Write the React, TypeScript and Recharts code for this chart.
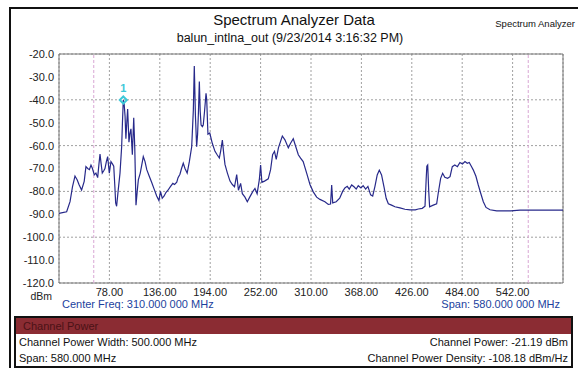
import React from 'react';
import {
  LineChart,
  Line,
  XAxis,
  YAxis,
  CartesianGrid,
  ReferenceLine,
  ReferenceArea,
  ReferenceDot,
} from 'recharts';

// sweep: 20 MHz .. 600 MHz (center 310 MHz, span 580 MHz)
const freqMHz = [
  20, 24, 28.8, 32.7, 35.5, 38.4, 41, 43, 46, 49, 51, 53, 55, 56.8, 58.5, 60.6, 62.5, 64.5, 66, 67.2,
  68.5, 69.8, 71.5, 72.9, 74.5, 76, 77.9, 79.8, 81.5, 83, 84.3, 85.2, 86.3, 88, 90.2, 92.1, 93, 94, 95,
  96, 97, 98, 99, 100.5, 101.5, 102.8, 104.4, 106, 107.2, 108.6, 110, 111.3, 113.5, 115, 117, 119, 121,
  124, 126.6, 129.5, 132.4, 135, 136.8, 138.8, 141, 143, 145.4, 148, 151, 153, 155.5, 157, 159.2, 161,
  163, 165, 167.5, 170, 172.7, 174.6, 175.7, 177, 178.4, 179.5, 180.5, 181.5, 182.5, 183.5, 185, 186,
  187.5, 189.2, 190, 191.4, 193.5, 196.4, 199.5, 202, 204.5, 206, 208, 209.5, 211, 213.8, 216.8, 219.5,
  222, 224.5, 226.5, 229, 231, 234, 236.7, 239.5, 242.8, 245.5, 248, 250.5, 252, 253.5, 256.5, 260.8,
  263.5, 265.8, 268, 270, 272.5, 277, 280, 283.9, 286.5, 289.6, 292.5, 295.4, 298, 301, 305, 308.8,
  312.6, 316.5, 320.3, 326, 329.9, 332.5, 333.8, 335, 339, 343, 346.4, 349, 351.7, 354, 356.8, 359.5,
  362, 364.4, 367.5, 370, 372.9, 375.5, 378.6, 381, 383.6, 386.2, 388.6, 391.2, 394, 396.5, 399, 402.7,
  406.6, 412.4, 418, 424, 430, 433.5, 438, 441.2, 442.5, 443.3, 444.3, 445.5, 446.5, 450.7, 454.6,
  456.5, 459.2, 461.5, 464, 467.2, 470, 472.6, 475.5, 478.5, 481.4, 484.3, 487.2, 489.8, 492.1, 494.8,
  496.7, 499.8, 502.5, 505.3, 508.3, 511.4, 516, 523.7, 540, 550.5, 570, 600,
];

const levelDbm = [
  -89.6, -89.3, -88.9, -84.5, -78, -73.3, -75, -77, -79.4, -75.6, -69.2, -70, -70.5, -68.5, -70, -72.8,
  -72, -74, -68, -63.7, -68, -72, -71, -70, -67, -64.8, -72, -67, -68, -69, -78, -85, -86.5, -80, -72,
  -60.5, -50, -40.1, -42, -47, -57, -50, -44, -58.5, -55, -52.7, -64, -47.8, -61, -86, -80, -75, -72,
  -69, -64.8, -67, -70.5, -73.5, -76, -79, -82, -84, -80, -83, -82, -80.5, -79.5, -78, -76.5, -77, -76,
  -74, -72.5, -70, -67.7, -70, -72, -67, -60.5, -44.5, -25.2, -47, -60.5, -55, -45, -32, -45, -51,
  -51.7, -51, -45, -37.2, -40, -55, -54.5, -59, -62.5, -64, -65.4, -62.5, -57.6, -63.3, -68.2, -72,
  -75.5, -77, -78, -72.7, -79.5, -76.5, -81, -82.5, -84.5, -82.5, -80.2, -78.7, -81, -75, -68.5, -76,
  -75.5, -74.5, -70.5, -64, -62.5, -66, -61, -55.8, -57.5, -61, -59, -57, -60.5, -64, -65.5, -67, -72,
  -77, -80.2, -82.5, -83.5, -84.5, -85.7, -85.5, -77.2, -85, -84.5, -83, -80, -78.5, -77.8, -79, -77.2,
  -78, -79, -77.5, -78.5, -77.5, -79, -77.8, -81.5, -82, -77.8, -72.8, -70.7, -72.8, -78, -83, -85.4,
  -86, -86.7, -87.2, -87.8, -88.1, -88.1, -87.7, -87.4, -86.5, -75, -69, -68.5, -80, -86.7, -86, -85.4,
  -80.6, -74.3, -72.1, -73.8, -74.3, -73.6, -69.2, -68.5, -69.2, -67.4, -68, -67, -67.7, -67.4, -69.2,
  -70.6, -73.4, -77.2, -80.8, -84.5, -87, -88, -88.5, -88.5, -88.2, -88.2, -88.2,
];

const freqTicks = [78, 136, 194, 252, 310, 368, 426, 484, 542];
const levelTicks = [-120, -110, -100, -90, -80, -70, -60, -50, -40, -30, -20];

// channel power integration edges (500 MHz width)
const channelEdges = [60, 560];

// marker 1
const markerFreq = 94;
const markerLevel = -40.1;

const traceData = freqMHz.map((f, i) => ({ f, dbm: levelDbm[i] }));

const FONT = "'Liberation Sans', Arial, sans-serif";

const MarkerShape = (props: any) => {
  const { cx, cy } = props;
  return (
    <g>
      <path
        d={`M${cx},${cy - 3.5} L${cx + 3.5},${cy} L${cx},${cy + 3.5} L${cx - 3.5},${cy} Z`}
        fill="none"
        stroke="#3cc8d8"
        strokeWidth={2}
      />
      <text x={cx} y={cy - 8} textAnchor="middle" fontSize={11} fontWeight="bold" fill="#3cc8d8" fontFamily={FONT}>
        1
      </text>
    </g>
  );
};

export default function App() {
  return (
    <div
      style={{
        position: 'fixed',
        left: 0,
        top: 0,
        width: 578,
        height: 368,
        background: '#fff',
        overflow: 'hidden',
        fontFamily: FONT,
      }}
    >
      {/* outer frame */}
      <div
        style={{
          position: 'absolute',
          left: 9,
          top: 7,
          width: 600,
          height: 370,
          border: '2px solid #111',
          boxSizing: 'border-box',
        }}
      />

      <div style={{ position: 'absolute', left: 0, top: 0 }}>
        <LineChart
          width={578}
          height={368}
          data={traceData}
          margin={{ top: 54, right: 15, bottom: 55, left: 0 }}
        >
          <CartesianGrid stroke="#a0a0a0" strokeDasharray="2 2" />
          <XAxis
            dataKey="f"
            type="number"
            domain={[20, 600]}
            ticks={freqTicks}
            allowDataOverflow
            height={30}
            axisLine={false}
            tickLine={false}
            tickSize={3}
            tickMargin={2}
            tick={{ fontSize: 11, fill: '#222', fontFamily: FONT }}
            tickFormatter={(v: number) => v.toFixed(2)}
          />
          <YAxis
            type="number"
            domain={[-120, -20]}
            ticks={levelTicks}
            allowDataOverflow
            width={59}
            axisLine={false}
            tickLine={false}
            tickSize={3}
            tickMargin={2}
            tick={{ fontSize: 11, fill: '#222', fontFamily: FONT }}
            tickFormatter={(v: number) => v.toFixed(1)}
          />
          {channelEdges.map((x) => (
            <ReferenceLine key={x} x={x} stroke="#d9a6d4" strokeDasharray="3 2" />
          ))}
          <ReferenceArea x1={20} x2={600} y1={-120} y2={-20} fill="none" stroke="#777" strokeWidth={1} />
          <Line
            type="linear"
            dataKey="dbm"
            stroke="#27298a"
            strokeWidth={1.2}
            dot={false}
            isAnimationActive={false}
          />
          <ReferenceDot x={markerFreq} y={markerLevel} shape={MarkerShape} />
        </LineChart>
      </div>

      <svg
        width={578}
        height={368}
        style={{ position: 'absolute', left: 0, top: 0, pointerEvents: 'none' }}
        fontFamily={FONT}
      >
        <text x={294} y={25} textAnchor="middle" fontSize={15} fill="#111">
          Spectrum Analyzer Data
        </text>
        <text x={290} y={42} textAnchor="middle" fontSize={12.5} fill="#111">
          balun_intlna_out (9/23/2014 3:16:32 PM)
        </text>
        <text x={575} y={27} textAnchor="end" fontSize={9.5} fill="#111">
          Spectrum Analyzer
        </text>
        <text x={52} y={299.5} textAnchor="end" fontSize={10.5} fill="#222">
          dBm
        </text>
        <text x={62} y={308} fontSize={11} fill="#1c3f9e">
          Center Freq: 310.000 000 MHz
        </text>
        <text x={560} y={308} textAnchor="end" fontSize={11} fill="#1c3f9e">
          Span: 580.000 000 MHz
        </text>
      </svg>

      {/* channel power summary */}
      <div
        style={{
          position: 'absolute',
          left: 14,
          top: 316,
          width: 559,
          height: 52,
          border: '2px solid #111',
          boxSizing: 'border-box',
          fontSize: 11,
          color: '#111',
        }}
      >
        <div
          style={{
            height: 16,
            lineHeight: '16px',
            background: '#8b2c33',
            color: '#4a1216',
            paddingLeft: 7,
          }}
        >
          Channel Power
        </div>
        <div style={{ height: 16, lineHeight: '16px', display: 'flex', justifyContent: 'space-between', padding: '0 3px' }}>
          <span>Channel Power Width: 500.000 MHz</span>
          <span>Channel Power: -21.19 dBm</span>
        </div>
        <div style={{ height: 16, lineHeight: '16px', display: 'flex', justifyContent: 'space-between', padding: '0 3px' }}>
          <span>Span: 580.000 MHz</span>
          <span>Channel Power Density: -108.18 dBm/Hz</span>
        </div>
      </div>
    </div>
  );
}
